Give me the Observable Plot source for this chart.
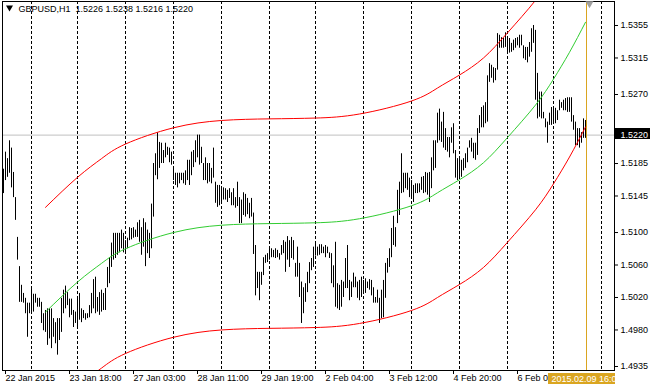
<!DOCTYPE html>
<html><head><meta charset="utf-8">
<script src="https://cdn.jsdelivr.net/npm/d3@7"></script>
<script src="https://cdn.jsdelivr.net/npm/@observablehq/plot@0.6"></script>
<style>body{margin:0;background:#fff}svg{display:block}</style>
</head><body><div id="chart"></div>
<script>
// ---- header ----
const symbolName = "GBPUSD,H1";
const lastOHLC = [1.5226, 1.5238, 1.5216, 1.5220];
const bidPrice = 1.5220;
const lastBarIndex = 291;
const lastBarTime = "2015.02.09 16:00";

// ---- H1 bars (bar index 0 = 22 Jan 2015 10:00), highs and lows ----
const high = [
1.5178,1.5199,1.5191,1.5213,1.5204,1.5174,1.5143,1.5094,1.5058,1.5035,
1.5025,1.5019,1.5013,1.5013,1.5030,1.5024,1.5024,1.5019,1.5019,1.5014,
1.5000,1.5004,1.5006,1.5006,1.5006,1.4994,1.4989,1.4994,1.4994,1.5019,
1.5029,1.5034,1.5026,1.5018,1.5018,1.5004,1.5002,1.5018,1.5025,1.5006,
1.5004,1.5000,1.5000,1.5010,1.5025,1.5042,1.5045,1.5020,1.5026,1.5029,
1.5025,1.5031,1.5057,1.5069,1.5087,1.5099,1.5099,1.5099,1.5099,1.5103,
1.5099,1.5090,1.5093,1.5106,1.5105,1.5106,1.5103,1.5112,1.5115,1.5106,
1.5117,1.5112,1.5103,1.5099,1.5135,1.5185,1.5197,1.5223,1.5211,1.5210,
1.5201,1.5210,1.5205,1.5204,1.5199,1.5180,1.5173,1.5173,1.5173,1.5173,
1.5173,1.5176,1.5189,1.5189,1.5199,1.5201,1.5213,1.5220,1.5220,1.5205,
1.5185,1.5192,1.5185,1.5185,1.5179,1.5204,1.5162,1.5158,1.5158,1.5154,
1.5155,1.5154,1.5152,1.5154,1.5149,1.5154,1.5143,1.5162,1.5143,1.5140,
1.5149,1.5147,1.5142,1.5136,1.5142,1.5124,1.5084,1.5051,1.5051,1.5051,
1.5069,1.5072,1.5074,1.5080,1.5080,1.5078,1.5080,1.5078,1.5074,1.5084,
1.5090,1.5088,1.5095,1.5090,1.5094,1.5090,1.5062,1.5082,1.5062,1.5039,
1.5032,1.5037,1.5051,1.5063,1.5068,1.5082,1.5088,1.5082,1.5085,1.5085,
1.5082,1.5084,1.5082,1.5075,1.5074,1.5059,1.5088,1.5037,1.5035,1.5041,
1.5039,1.5068,1.5084,1.5041,1.5039,1.5050,1.5045,1.5039,1.5041,1.5045,
1.5041,1.5043,1.5039,1.5042,1.5041,1.5032,1.5020,1.5029,1.5019,1.5029,
1.5041,1.5062,1.5068,1.5080,1.5105,1.5120,1.5106,1.5152,1.5162,1.5197,
1.5173,1.5173,1.5173,1.5167,1.5164,1.5158,1.5160,1.5160,1.5160,1.5168,
1.5169,1.5174,1.5173,1.5174,1.5192,1.5213,1.5213,1.5247,1.5252,1.5236,
1.5248,1.5228,1.5217,1.5217,1.5229,1.5234,1.5201,1.5191,1.5191,1.5189,
1.5191,1.5197,1.5204,1.5213,1.5216,1.5210,1.5210,1.5228,1.5244,1.5254,
1.5256,1.5260,1.5293,1.5308,1.5306,1.5303,1.5302,1.5345,1.5343,1.5340,
1.5339,1.5346,1.5340,1.5339,1.5333,1.5337,1.5339,1.5340,1.5343,1.5343,
1.5330,1.5328,1.5328,1.5334,1.5351,1.5355,1.5349,1.5296,1.5273,1.5273,
1.5248,1.5240,1.5236,1.5247,1.5254,1.5253,1.5253,1.5250,1.5263,1.5260,
1.5263,1.5265,1.5266,1.5266,1.5266,1.5244,1.5236,1.5228,1.5228,1.5223,
1.5240,1.5238];
const low = [
1.5148,1.5164,1.5168,1.5173,1.5155,1.5143,1.5115,1.5066,1.5014,1.5014,
1.5013,1.5000,1.4971,1.5000,1.5000,1.5002,1.5013,1.5008,1.5008,1.4988,
1.4979,1.4977,1.4961,1.4969,1.4957,1.4971,1.4963,1.4949,1.4967,1.4977,
1.5000,1.5006,1.5010,1.4995,1.4998,1.4983,1.4988,1.4983,1.4992,1.4989,
1.4994,1.4992,1.4994,1.4995,1.5000,1.5006,1.5000,1.5002,1.4998,1.5002,
1.5004,1.5004,1.5032,1.5037,1.5057,1.5066,1.5068,1.5072,1.5075,1.5080,
1.5075,1.5074,1.5080,1.5090,1.5091,1.5093,1.5094,1.5094,1.5088,1.5072,
1.5082,1.5058,1.5074,1.5068,1.5080,1.5119,1.5170,1.5165,1.5179,1.5185,
1.5185,1.5192,1.5195,1.5186,1.5183,1.5164,1.5158,1.5155,1.5160,1.5164,
1.5160,1.5158,1.5164,1.5158,1.5170,1.5180,1.5186,1.5192,1.5183,1.5185,
1.5164,1.5164,1.5160,1.5162,1.5160,1.5167,1.5136,1.5131,1.5133,1.5137,
1.5140,1.5140,1.5137,1.5142,1.5133,1.5133,1.5130,1.5132,1.5111,1.5111,
1.5121,1.5119,1.5122,1.5117,1.5119,1.5073,1.5022,1.5031,1.5016,1.5035,
1.5047,1.5062,1.5063,1.5066,1.5069,1.5069,1.5068,1.5069,1.5066,1.5072,
1.5074,1.5051,1.5066,1.5057,1.5068,1.5066,1.5045,1.5045,1.5020,1.4988,
1.5000,1.5014,1.5026,1.5037,1.5053,1.5057,1.5071,1.5071,1.5072,1.5074,
1.5074,1.5069,1.5074,1.5068,1.5037,1.5032,1.5008,1.5006,1.5004,1.5008,
1.5020,1.5031,1.5031,1.5016,1.5020,1.5032,1.5032,1.5019,1.5016,1.5020,
1.5026,1.5025,1.5031,1.5029,1.5022,1.5013,1.5013,1.5013,1.4988,1.4994,
1.4995,1.5019,1.5050,1.5057,1.5069,1.5084,1.5082,1.5111,1.5121,1.5148,
1.5149,1.5154,1.5152,1.5143,1.5142,1.5137,1.5148,1.5148,1.5149,1.5152,
1.5148,1.5149,1.5146,1.5137,1.5154,1.5176,1.5179,1.5210,1.5213,1.5211,
1.5204,1.5201,1.5199,1.5192,1.5210,1.5197,1.5167,1.5164,1.5167,1.5168,
1.5176,1.5179,1.5186,1.5204,1.5199,1.5191,1.5189,1.5195,1.5222,1.5229,
1.5229,1.5234,1.5236,1.5285,1.5290,1.5284,1.5287,1.5300,1.5327,1.5327,
1.5327,1.5328,1.5321,1.5321,1.5322,1.5324,1.5327,1.5330,1.5327,1.5330,
1.5314,1.5312,1.5309,1.5316,1.5322,1.5333,1.5263,1.5240,1.5242,1.5240,
1.5240,1.5229,1.5210,1.5232,1.5232,1.5234,1.5234,1.5238,1.5250,1.5253,
1.5250,1.5250,1.5248,1.5248,1.5236,1.5226,1.5207,1.5207,1.5204,1.5210,
1.5216,1.5216];

// ---- regression channel, sampled along bar index ----
const chanBars = [21, 37, 49, 61, 85, 109, 133, 156, 178, 204, 217, 228, 240, 252, 266, 275, 283, 291];
const chanCenter = [1.5002,1.5039,1.5062,1.5080,1.5100,1.5109,1.5111,1.5112,1.5117,1.5133,1.5149,1.5165,1.5186,1.5217,1.5257,1.5289,1.5322,1.5359];
const chanUpper  = [1.5131,1.5168,1.5191,1.5209,1.5229,1.5238,1.5240,1.5241,1.5246,1.5262,1.5278,1.5294,1.5315,1.5346,1.5386,1.5418,1.5451,1.5488];
const chanLower  = [1.4873,1.4910,1.4933,1.4951,1.4971,1.4980,1.4982,1.4983,1.4988,1.5004,1.5020,1.5036,1.5057,1.5088,1.5128,1.5160,1.5193,1.5230];

// ---- axes ----
const timeTickBars = [0, 32, 64, 96, 128, 160, 192, 224, 256];
const timeTickLabels = ["22 Jan 2015","23 Jan 18:00","27 Jan 03:00","28 Jan 11:00","29 Jan 19:00","2 Feb 04:00","3 Feb 12:00","4 Feb 20:00","6 Feb 04:00"];
const daySeparators = [14, 37, 61, 85, 109, 133, 156, 180, 204, 228, 252, 275, 299];
const priceTicks = [1.5355, 1.5315, 1.5270, 1.5185, 1.5145, 1.5100, 1.5060, 1.5020, 1.4980, 1.4935];
const shiftMarkerBar = 293;

const bars = high.map((h, i) => ({i, high: h, low: low[i]}));
const channel = chanBars.map((b, k) => ({bar: b, center: chanCenter[k], upper: chanUpper[k], lower: chanLower[k]}));
const timeLabel = new Map(timeTickBars.map((b, k) => [b, timeTickLabels[k]]));
const header = symbolName + "\u00a0\u00a0" + lastOHLC.map(d => d.toFixed(4)).join(" ");
const fmt = d3.format(".4f");
const bidText = fmt(bidPrice);

const chart = Plot.plot({
  width: 650, height: 388,
  marginLeft: 2, marginRight: 36, marginTop: 1, marginBottom: 18,
  style: {fontFamily: "'Liberation Sans', Arial, sans-serif", fontSize: "9px", background: "#fff", color: "#000"},
  x: {domain: [-0.5, 305.5], axis: null},
  y: {domain: [1.493007, 1.538456], axis: null},
  marks: [
    Plot.ruleX(daySeparators, {x: d => d, stroke: "#000", strokeWidth: 1, strokeDasharray: "3,2"}),
    Plot.ruleY([bidPrice], {stroke: "#c0c0c0", strokeWidth: 1}),
    Plot.ruleX(bars, {x: "i", y1: "low", y2: "high", stroke: "#000", strokeWidth: 1}),
    Plot.ruleX([lastBarIndex], {stroke: "#daa520", strokeWidth: 1, dx: 1}),
    Plot.line(channel, {x: "bar", y: "center", stroke: "#32cd32", strokeWidth: 1, curve: "natural", clip: true}),
    Plot.line(channel, {x: "bar", y: "upper", stroke: "#ff0000", strokeWidth: 1, curve: "natural", clip: true}),
    Plot.line(channel, {x: "bar", y: "lower", stroke: "#ff0000", strokeWidth: 1, curve: "natural", clip: true}),
    Plot.frame({stroke: "#000"}),
    Plot.axisY(priceTicks, {anchor: "right", tickSize: 3, tickPadding: 3, tickFormat: fmt, stroke: "#000"}),
    Plot.axisX(timeTickBars, {anchor: "bottom", tickSize: 4, tickPadding: 0, tickFormat: d => timeLabel.get(d), textAnchor: "start", dx: 2, stroke: "#000"}),
    Plot.text([lastBarIndex], {x: d => d, frameAnchor: "bottom", dx: 1, dy: 9, text: () => lastBarTime, fill: "#fff", textAnchor: "middle", lineAnchor: "middle"}),
    Plot.text([bidPrice], {y: d => d, frameAnchor: "right", dx: 6, text: () => bidText, fill: "#fff", textAnchor: "start", lineAnchor: "middle"}),
    Plot.text([header], {frameAnchor: "top-left", dx: 16, dy: 4, textAnchor: "start", lineAnchor: "top", fill: "#000"}),
    Plot.dot([0], {frameAnchor: "top-left", dx: 7, dy: 6, symbol: "triangle", r: 2.6, rotate: 180, fill: "#000", stroke: "none"}),
    Plot.dot([shiftMarkerBar], {x: d => d, frameAnchor: "top", dy: 2, symbol: "triangle", r: 3, rotate: 180, fill: "#a0a0a0", stroke: "none"})
  ]
});
document.getElementById("chart").appendChild(chart);

// label boxes behind the cursor labels, sized from the rendered text
const svgEl = chart.tagName.toLowerCase() === "svg" ? chart : chart.querySelector("svg");
const svgBox = svgEl.getBoundingClientRect();
const frameEl = svgEl.querySelector('[aria-label="frame"]');
const frameBox = frameEl.getBoundingClientRect();
const frameRight = Math.ceil(frameBox.right), frameBottom = Math.ceil(frameBox.bottom);
const NS = "http://www.w3.org/2000/svg";
const allTexts = Array.from(svgEl.querySelectorAll("text"));
function addBox(content, fill, x0, x1, pad) {
  const txt = allTexts.find(t => t.textContent === content);
  if (!txt) return null;
  const g = txt.parentNode; // the text mark's group
  const t = txt.getBoundingClientRect();
  const r = document.createElementNS(NS, "rect");
  const left = x0 != null ? x0 : Math.floor(t.left - pad);
  const right = x1 != null ? x1 : Math.ceil(t.right + pad);
  r.setAttribute("x", left - svgBox.left);
  r.setAttribute("y", Math.floor(t.top) - svgBox.top - 1);
  r.setAttribute("width", right - left);
  r.setAttribute("height", Math.ceil(t.height) + 1);
  r.setAttribute("fill", fill);
  g.parentNode.insertBefore(r, g);
  return g;
}
const tg = addBox(lastBarTime, "#daa520", null, null, 3);
addBox(bidText, "#000", frameRight, svgBox.right, 0);
if (tg) {
  // the time label is cut at the right edge of the chart frame
  const cover = document.createElementNS(NS, "rect");
  cover.setAttribute("x", frameRight - svgBox.left);
  cover.setAttribute("y", frameBottom - svgBox.top);
  cover.setAttribute("width", svgBox.right - frameRight);
  cover.setAttribute("height", svgBox.bottom - frameBottom);
  cover.setAttribute("fill", "#fff");
  tg.parentNode.insertBefore(cover, tg.nextSibling);
}
</script></body></html>
